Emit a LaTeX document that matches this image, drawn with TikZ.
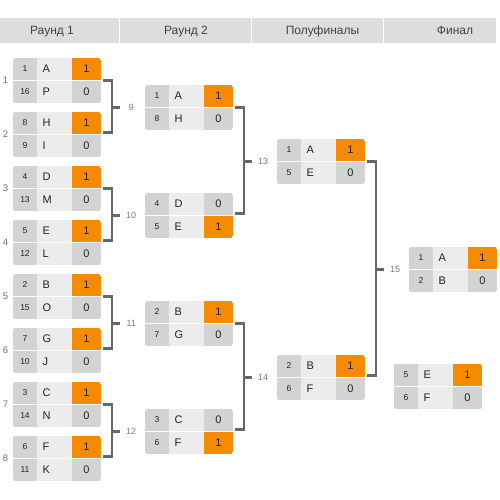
\documentclass[tikz,border=0pt]{standalone}
\usepackage{fontspec}
\setmainfont{Liberation Sans}
\definecolor{hdrbg}{HTML}{DDDDDD}
\definecolor{seedbg}{HTML}{D3D3D3}
\definecolor{namebg}{HTML}{ECECEC}
\definecolor{win}{HTML}{F68A00}
\definecolor{brc}{HTML}{666666}
\definecolor{numc}{HTML}{6B7F95}
\definecolor{lftc}{HTML}{707070}
\definecolor{txt}{HTML}{222222}
\tikzset{
  hdr/.style={fill=hdrbg, draw=none},
  hdrtxt/.style={font=\fontsize{12}{14}\selectfont, text=txt!85!white, inner sep=0, anchor=base},
  seedtxt/.style={font=\fontsize{8.5}{10}\selectfont, text=txt, inner sep=0},
  nametxt/.style={font=\fontsize{11}{13}\selectfont, text=txt, inner sep=0, anchor=west},
  scoretxt/.style={font=\fontsize{11}{13}\selectfont, text=txt, inner sep=0},
  mbox/.style={inner sep=0, minimum width=88pt, minimum height=45pt, draw=none},
  br/.style={draw=brc, line width=2.3pt},
  numlbl/.style={font=\fontsize{9}{11}\selectfont, text=numc, inner sep=0},
  lftlbl/.style={font=\fontsize{9.5}{11}\selectfont, text=lftc, inner sep=0},
}
% #1 id, #2 left x, #3 centre y, #4 seed1, #5 name1, #6 score1, #7 seed2, #8 name2, #9 score2
\newcommand\matchbox[9]{%
  \ifnum#6=1 \def\tmpa{win}\else\def\tmpa{seedbg}\fi
  \ifnum#9=1 \def\tmpb{win}\else\def\tmpb{seedbg}\fi
  \begin{scope}
    \clip[rounded corners=2.5pt] ({#2},{#3-22.5}) rectangle ({#2+88},{#3+22.5});
    \fill[namebg] ({#2},{#3-22.5}) rectangle ({#2+88},{#3+22.5});
    \fill[seedbg] ({#2},{#3-22.5}) rectangle ({#2+24},{#3+22.5});
    \fill[fill=\tmpa] ({#2+59},{#3-22.5}) rectangle ({#2+88},{#3});
    \fill[fill=\tmpb] ({#2+59},{#3}) rectangle ({#2+88},{#3+22.5});
    \draw[white, line width=1pt] ({#2},{#3}) -- ({#2+88},{#3});
  \end{scope}
  \node[mbox] (#1) at ({#2+44},{#3}) {};
  \node[seedtxt] (#1s1) at ({#2+12},{#3-11.5}) {#4};
  \node[nametxt] (#1n1) at ({#2+29.5},{#3-11.5}) {#5};
  \node[scoretxt] (#1r1) at ({#2+73.5},{#3-11.5}) {#6};
  \node[seedtxt] (#1s2) at ({#2+12},{#3+11.5}) {#7};
  \node[nametxt] (#1n2) at ({#2+29.5},{#3+11.5}) {#8};
  \node[scoretxt] (#1r2) at ({#2+73.5},{#3+11.5}) {#9};
}
% bracket: #1 upper match, #2 lower match, #3 next match, #4 label name, #5 label text
\newcommand\bracket[5]{%
  \draw[br] ([xshift=2pt]#1.east) -- ([xshift=10.7pt]#1.east) |- ([xshift=2pt,yshift=2pt]#2.east);
  \coordinate (#4j) at ([xshift=10.7pt]#1.east |- #3.west);
  \draw[br] (#4j) -- ([xshift=8.3pt]#4j);
  \node[numlbl] (#4) at ([xshift=19.3pt]#4j) {#5};
}
\begin{document}
\begin{tikzpicture}[x=1pt,y=-1pt]
\useasboundingbox (0,0) rectangle (500,500);
\fill[white] (0,0) rectangle (500,500);
% header
\fill[hdr] (0,18) rectangle (119,43);
\fill[hdr] (120,18) rectangle (251,43);
\fill[hdr] (252,18) rectangle (383,43);
\fill[hdr] (384,18) rectangle (496,43);
\node[hdrtxt] (h1) at (52,35) {Раунд 1};
\node[hdrtxt] (h2) at (186,35) {Раунд 2};
\node[hdrtxt] (h3) at (322.5,35) {Полуфиналы};
\node[hdrtxt] (h4) at (455,35) {Финал};
% round 1
\matchbox{m1}{13}{80.5}{1}{A}{1}{16}{P}{0}
\matchbox{m2}{13}{134.5}{8}{H}{1}{9}{I}{0}
\matchbox{m3}{13}{188.5}{4}{D}{1}{13}{M}{0}
\matchbox{m4}{13}{242.5}{5}{E}{1}{12}{L}{0}
\matchbox{m5}{13}{296.5}{2}{B}{1}{15}{O}{0}
\matchbox{m6}{13}{350.5}{7}{G}{1}{10}{J}{0}
\matchbox{m7}{13}{404.5}{3}{C}{1}{14}{N}{0}
\matchbox{m8}{13}{458.5}{6}{F}{1}{11}{K}{0}
\foreach \i/\c in {1/80.5,2/134.5,3/188.5,4/242.5,5/296.5,6/350.5,7/404.5,8/458.5}
  \node[lftlbl] (lf\i) at (5.5,\c) {\i};
% round 2
\matchbox{m9}{145}{107.5}{1}{A}{1}{8}{H}{0}
\matchbox{m10}{145}{215.5}{4}{D}{0}{5}{E}{1}
\matchbox{m11}{145}{323.5}{2}{B}{1}{7}{G}{0}
\matchbox{m12}{145}{431.5}{3}{C}{0}{6}{F}{1}
% semifinals
\matchbox{m13}{277}{161.5}{1}{A}{1}{5}{E}{0}
\matchbox{m14}{277}{377.5}{2}{B}{1}{6}{F}{0}
% final and third place
\matchbox{m15}{409}{269.5}{1}{A}{1}{2}{B}{0}
\matchbox{m16}{394}{386.5}{5}{E}{1}{6}{F}{0}
% brackets
\bracket{m1}{m2}{m9}{n9}{9}
\bracket{m3}{m4}{m10}{n10}{10}
\bracket{m5}{m6}{m11}{n11}{11}
\bracket{m7}{m8}{m12}{n12}{12}
\bracket{m9}{m10}{m13}{n13}{13}
\bracket{m11}{m12}{m14}{n14}{14}
\bracket{m13}{m14}{m15}{n15}{15}
\end{tikzpicture}
\end{document}
